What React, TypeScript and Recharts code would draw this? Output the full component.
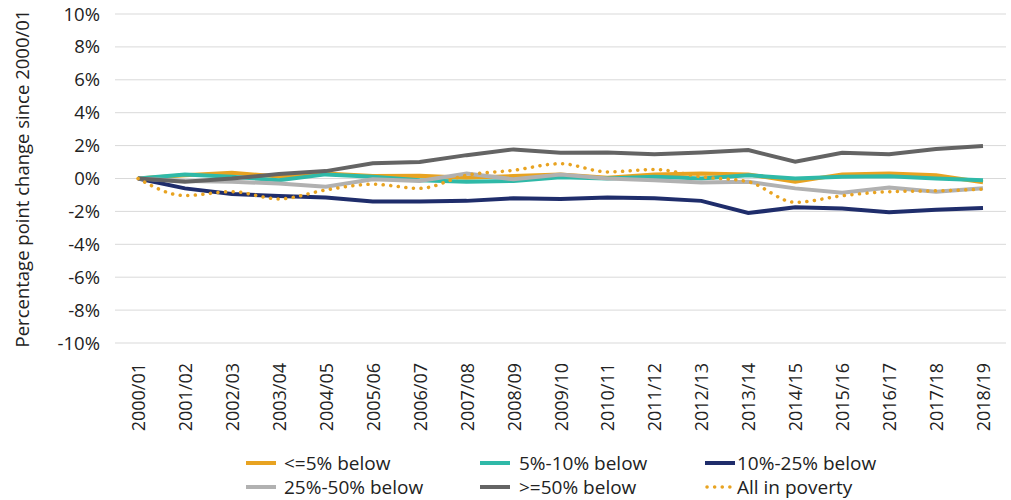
import React from "react";
import { CartesianGrid, Line, LineChart, XAxis, YAxis } from "recharts";

const YEARS = [
  "2000/01", "2001/02", "2002/03", "2003/04", "2004/05", "2005/06", "2006/07",
  "2007/08", "2008/09", "2009/10", "2010/11", "2011/12", "2012/13", "2013/14",
  "2014/15", "2015/16", "2016/17", "2017/18", "2018/19",
];

const below5 = [0, 0.2, 0.35, 0.12, 0.3, 0.15, 0.17, 0.05, 0.15, 0.25, 0.05, 0.25, 0.3, 0.25, -0.2, 0.25, 0.3, 0.2, -0.23];
const below5to10 = [0, 0.25, 0.1, -0.1, 0.25, 0.1, -0.1, -0.2, -0.15, 0.07, 0, 0.1, 0, 0.2, 0, 0.1, 0.13, 0, -0.1];
const below10to25 = [0, -0.6, -0.94, -1.06, -1.16, -1.4, -1.4, -1.36, -1.2, -1.24, -1.16, -1.2, -1.36, -2.1, -1.75, -1.83, -2.05, -1.9, -1.79];
const below25to50 = [0, -0.15, -0.2, -0.3, -0.5, -0.05, -0.15, 0.3, -0.05, 0.25, 0, -0.1, -0.25, -0.2, -0.6, -0.86, -0.55, -0.8, -0.6];
const below50plus = [0, -0.2, 0, 0.27, 0.45, 0.93, 1.0, 1.42, 1.77, 1.56, 1.58, 1.47, 1.58, 1.73, 1.02, 1.56, 1.47, 1.79, 1.97];
const allPoverty = [0, -1.04, -0.8, -1.24, -0.7, -0.35, -0.6, 0.2, 0.5, 0.9, 0.4, 0.55, 0.1, -0.2, -1.45, -1.05, -0.8, -0.75, -0.65];

const Y_TICKS = [-10, -8, -6, -4, -2, 0, 2, 4, 6, 8, 10];

const series = [
  { key: "b5", name: "<=5% below", values: below5, color: "#E8A321", dashed: false },
  { key: "b10", name: "5%-10% below", values: below5to10, color: "#2FB9A8", dashed: false },
  { key: "b25", name: "10%-25% below", values: below10to25, color: "#1F2D6B", dashed: false },
  { key: "b50", name: "25%-50% below", values: below25to50, color: "#B1B1B1", dashed: false },
  { key: "b50p", name: ">=50% below", values: below50plus, color: "#646464", dashed: false },
  { key: "all", name: "All in poverty", values: allPoverty, color: "#E8A321", dashed: true },
];

const data = YEARS.map((year, i) => {
  const row: Record<string, string | number> = { year };
  series.forEach((s) => (row[s.key] = s.values[i]));
  return row;
});

const FONT = "'Open Sans', 'Noto Sans', sans-serif";
const TEXT = "#222";

// legend spots, copied from the Excel layout (swatch left, text left, row centre)
const legendSpots = [
  { sw: 246, tx: 284, cy: 463 },
  { sw: 480, tx: 519, cy: 463 },
  { sw: 705, tx: 737, cy: 463 },
  { sw: 246, tx: 284, cy: 487 },
  { sw: 480, tx: 519, cy: 487 },
  { sw: 705, tx: 737, cy: 487 },
];

function XTick({ x, y, payload }: any) {
  return (
    <text
      x={x}
      y={y + 12}
      transform={`rotate(-90, ${x}, ${y + 12})`}
      textAnchor="end"
      dominantBaseline="central"
      fontSize={18}
      fill={TEXT}
      fontFamily={FONT}
    >
      {payload.value}
    </text>
  );
}

export default function App() {
  return (
    <div style={{ position: "absolute", left: 0, top: 0, width: 1011, height: 500, background: "#fff" }}>
      <LineChart
        width={1011}
        height={500}
        data={data}
        margin={{ top: 14, right: 5, bottom: 0, left: 0 }}
      >
        <CartesianGrid vertical={false} stroke="#d9d9d9" strokeWidth={1} />
        <XAxis
          dataKey="year"
          interval={0}
          height={157}
          padding={{ left: 23, right: 23 }}
          axisLine={false}
          tickLine={false}
          tick={<XTick />}
        />
        <YAxis
          domain={[-10, 10]}
          ticks={Y_TICKS}
          width={115}
          axisLine={false}
          tickLine={false}
          tickMargin={9}
          tickFormatter={(v: number) => `${v}%`}
          tick={{ fontSize: 18.5, fill: TEXT, fontFamily: FONT }}
          label={{
            value: "Percentage point change since 2000/01",
            angle: -90,
            position: "insideLeft",
            offset: 22,
            style: { textAnchor: "middle", fontSize: 18.5, fill: TEXT, fontFamily: FONT },
          }}
        />
        {series.map((s) => (
          <Line
            key={s.key}
            dataKey={s.key}
            name={s.name}
            type={s.dashed ? "monotone" : "linear"}
            stroke={s.color}
            strokeWidth={s.dashed ? 3.5 : 4}
            strokeDasharray={s.dashed ? "0.1 7.5" : undefined}
            strokeLinecap={s.dashed ? "round" : "butt"}
            dot={false}
            isAnimationActive={false}
          />
        ))}
      </LineChart>
      {series.map((s, i) => (
        <React.Fragment key={s.key}>
          <svg
            width={34}
            height={10}
            style={{ position: "absolute", left: legendSpots[i].sw, top: legendSpots[i].cy - 5 }}
          >
            <line
              x1={s.dashed ? 2 : 0}
              x2={30}
              y1={5}
              y2={5}
              stroke={s.color}
              strokeWidth={s.dashed ? 3.5 : 4}
              strokeDasharray={s.dashed ? "0.1 7.5" : undefined}
              strokeLinecap={s.dashed ? "round" : "butt"}
            />
          </svg>
          <div
            style={{
              position: "absolute",
              left: legendSpots[i].tx,
              top: legendSpots[i].cy - 13,
              lineHeight: "26px",
              fontFamily: FONT,
              fontSize: 19,
              color: TEXT,
              whiteSpace: "nowrap",
            }}
          >
            {s.name}
          </div>
        </React.Fragment>
      ))}
    </div>
  );
}
